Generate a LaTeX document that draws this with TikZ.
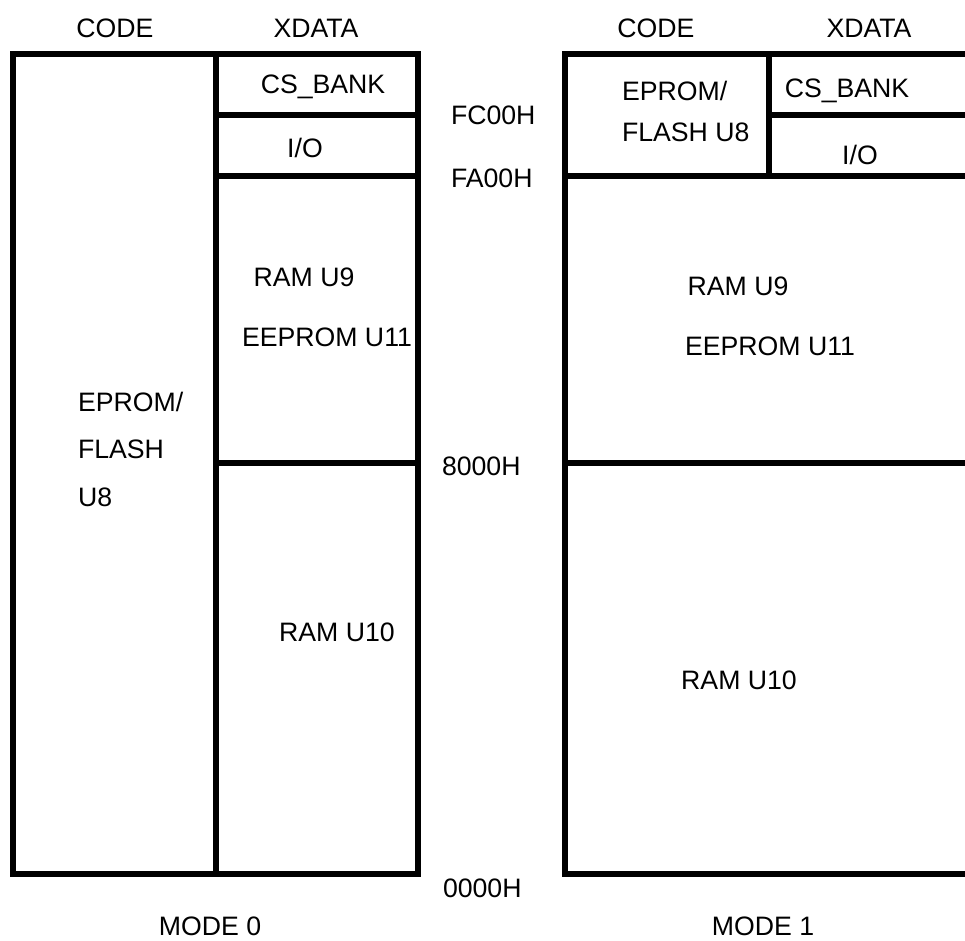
\documentclass[tikz,border=0pt]{standalone}
\usepackage{fontspec}
\setmainfont{Liberation Sans}
\usepackage{tikz}

\begin{document}
\begin{tikzpicture}[x=0.75pt, y=-0.75pt, line width=4.5pt, line join=miter,
    lbl/.style={inner sep=0pt, font=\fontsize{20}{24}\selectfont},
    addr/.style={lbl, anchor=west}]
  \useasboundingbox (0,0) rectangle (965,941);
  \clip (0,0) rectangle (965,941);
  % === Mode 0 ===
  \draw (13,54) rectangle (418,874);
  \draw (216,54) -- (216,874);
  \draw (216,115) -- (418,115);
  \draw (216,176) -- (418,176);
  \draw (216,463) -- (418,463);
  \node[lbl] (code0) at (115,28) {CODE};
  \node[lbl] (xdata0) at (316,28) {XDATA};
  \node[lbl] (bank0) at (323,87) {CS\_BANK};
  \node[lbl] (io0) at (305,148) {I/O};
  \node[lbl] (ramu9a) at (304,277) {RAM U9};
  \node[lbl] (eeprom0) at (327,337) {EEPROM U11};
  \node[lbl, anchor=west] (flash0a) at (75,402) {EPROM/};
  \node[lbl, anchor=west] (flash0b) at (75,449) {FLASH};
  \node[lbl, anchor=west] (flash0c) at (75,497) {U8};
  \node[lbl] (ramu10a) at (337,632) {RAM U10};
  \node[lbl] (mode0) at (210,926) {MODE 0};
  % === Adresy ===
  \node[addr] (fc00) at (448,115) {FC00H};
  \node[addr] (fa00) at (448,178) {FA00H};
  \node[addr] (a8000) at (439,466) {8000H};
  \node[addr] (a0000) at (440,888) {0000H};
  % === Mode 1 ===
  \draw (968,54) -- (565,54) -- (565,874) -- (968,874);
  \draw (769,54) -- (769,176);
  \draw (769,115) -- (968,115);
  \draw (565,176) -- (968,176);
  \draw (565,463) -- (968,463);
  \node[lbl] (code1) at (656,28) {CODE};
  \node[lbl] (xdata1) at (869,28) {XDATA};
  \node[lbl, anchor=west] (flash1a) at (619,91) {EPROM/};
  \node[lbl, anchor=west] (flash1b) at (619,132) {FLASH U8};
  \node[lbl] (bank1) at (847,91) {CS\_BANK};
  \node[lbl] (io1) at (860,155) {I/O};
  \node[lbl] (ramu9b) at (738,286) {RAM U9};
  \node[lbl] (eeprom1) at (770,346) {EEPROM U11};
  \node[lbl] (ramu10b) at (739,680) {RAM U10};
  \node[lbl] (mode1) at (763,926) {MODE 1};
\end{tikzpicture}
\end{document}
